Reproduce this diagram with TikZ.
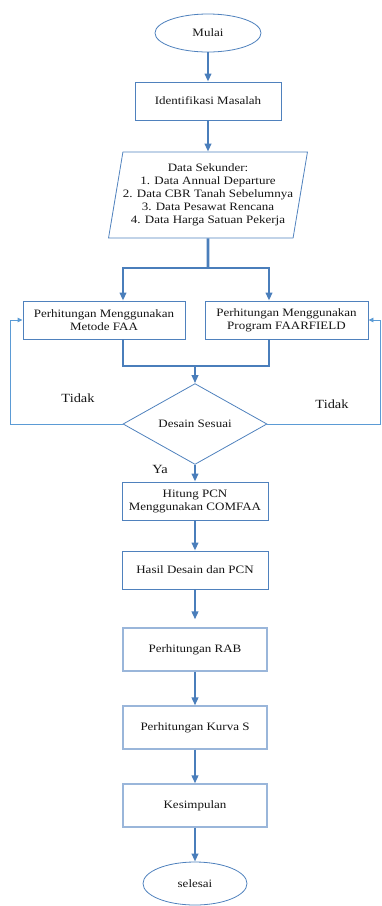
\documentclass[tikz,border=0pt]{standalone}
\usepackage{fontspec}
\setmainfont{Liberation Serif}[FakeStretch=1.15]
\usetikzlibrary{arrows.meta,positioning,shapes.geometric,shadows}
\definecolor{boxblue}{HTML}{4F81BD}
\definecolor{arrowblue}{HTML}{4A7EBB}
\definecolor{loopblue}{HTML}{5B9BD5}
\definecolor{paleblue}{HTML}{9AB6DA}
\definecolor{inkgray}{HTML}{151515}
\tikzset{
  startend/.style={draw=boxblue,ellipse,line width=.8pt,inner sep=0pt,text=inkgray,font=\fontsize{11.3}{13}\selectfont},
  procbox/.style={draw=boxblue,rectangle,line width=.9pt,minimum height=38pt,align=center,inner sep=2pt,text=inkgray,font=\fontsize{11.3}{13}\selectfont},
  shadebox/.style={draw=paleblue,fill=white,rectangle,line width=1.1pt,minimum width=144pt,minimum height=43pt,align=center,inner sep=2pt,text=inkgray,font=\fontsize{11.3}{13}\selectfont,drop shadow={shadow xshift=0pt,shadow yshift=-.8pt,opacity=.3}},
  databox/.style={draw=boxblue,trapezium,trapezium left angle=77,trapezium right angle=103,trapezium stretches=true,line width=.8pt,minimum width=198pt,minimum height=86pt,align=center,inner sep=0pt,text=inkgray,font=\fontsize{11.3}{13}\selectfont},
  decide/.style={draw=boxblue,diamond,line width=.8pt,minimum width=144pt,minimum height=56pt,inner sep=0pt,text=inkgray,font=\fontsize{11.3}{13}\selectfont},
  bar/.style={draw=arrowblue,line width=2.6pt},
  flow/.style={bar,-{Triangle[width=6.5pt,length=8pt]}},
  backflow/.style={draw=loopblue,line width=.9pt,-{Triangle[width=4.5pt,length=5pt]}},
  lbl/.style={text=inkgray,font=\fontsize{12.5}{14}\selectfont},
}
\begin{document}
\begin{tikzpicture}[x=1pt,y=-1pt]
  \useasboundingbox (0,0) rectangle (381,906);
  \node[startend,minimum width=106pt,minimum height=38pt] (mulai) at (208,33) {Mulai};
  \node[procbox,minimum width=146pt] (ident) at (208,101) {Identifikasi Masalah};
  \node[databox] (data) at (208,195) {Data Sekunder:\\1. Data Annual Departure\\2. Data CBR Tanah Sebelumnya\\3. Data Pesawat Rencana\\4. Data Harga Satuan Pekerja};
  \node[procbox,minimum width=162pt] (faa) at (104,320) {Perhitungan Menggunakan\\Metode FAA};
  \node[procbox,minimum width=163pt] (ffield) at (286.5,320) {Perhitungan Menggunakan\\Program FAARFIELD};
  \node[decide] (desain) at (195,424) {Desain Sesuai};
  \node[procbox,minimum width=146pt] (hitung) at (195,501) {Hitung PCN\\Menggunakan COMFAA};
  \node[procbox,minimum width=146pt] (hasil) at (195,570) {Hasil Desain dan PCN};
  \node[shadebox] (rab) at (195,649.5) {Perhitungan RAB};
  \node[shadebox] (kurva) at (195,727.5) {Perhitungan Kurva S};
  \node[shadebox] (kesimpulan) at (195,805.5) {Kesimpulan};
  \node[startend,minimum width=104pt,minimum height=43pt] (selesai) at (195,883.5) {selesai};
  \node[lbl] (tidakkiri) at (78,398) {Tidak};
  \node[lbl] (tidakkanan) at (332,404) {Tidak};
  \node[lbl] (ya) at (160,469) {Ya};
  \coordinate (split) at (208,268);
  \coordinate (merge) at (195,366);
  \coordinate (kiri) at (10,320);
  \coordinate (kanan) at (380,320);

  \draw[flow] (mulai) -- (ident);
  \draw[flow] (ident) -- (data);
  \draw[bar] (data.south) -- (split);
  \draw[flow] (split) -| ([xshift=19pt]faa.north);
  \draw[flow] (split) -| ([xshift=-17.5pt]ffield.north);
  \draw[bar] ([xshift=19pt]faa.south) |- (merge);
  \draw[bar] ([xshift=-17.5pt]ffield.south) |- (merge);
  \draw[flow] (merge) -- (desain.north);
  \draw[backflow] (desain.west) -| (kiri) -- (faa.west);
  \draw[backflow] (desain.east) -| (kanan) -- (ffield.east);
  \draw[flow] (desain) -- (hitung);
  \draw[flow] (hitung) -- (hasil);
  \draw[flow,shorten >=8pt] (hasil) -- (rab);
  \draw[flow] (rab) -- (kurva);
  \draw[flow] (kurva) -- (kesimpulan);
  \draw[flow] (kesimpulan) -- (selesai);
\end{tikzpicture}
\end{document}
